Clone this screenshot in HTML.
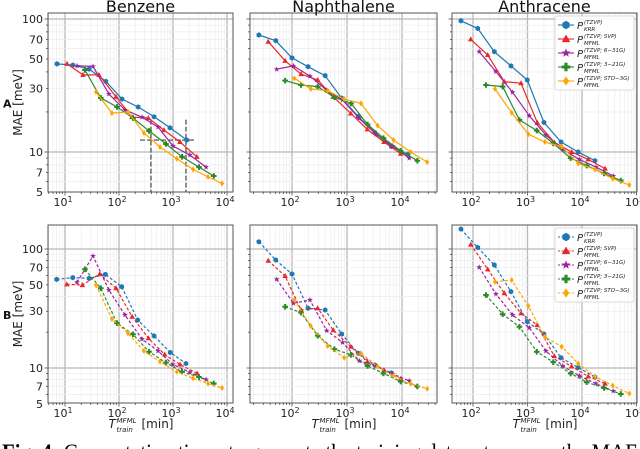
<!DOCTYPE html>
<html><head><meta charset="utf-8">
<style>
html,body{margin:0;padding:0;background:#fff;overflow:hidden}
svg{display:block;font-family:"DejaVu Sans","Liberation Sans",sans-serif}
</style></head>
<body>
<svg id="fig" width="640" height="449" viewBox="0 0 640 449" xmlns="http://www.w3.org/2000/svg">
<text x="2" y="460" font-family="Liberation Serif, serif" font-size="23" textLength="636" lengthAdjust="spacingAndGlyphs"><tspan font-weight="bold">Fig. 4:</tspan> Computation times to generate the training data sets versus the MAE</text>
</svg>
<script>
// ---------- data (x: T_train [min], y: MAE [meV]) ----------
// Panel A1 Benzene
const bzA_krr_T=[7.1,14,28,57,114,226,446,880,1800];
const bzA_krr_MAE=[46,45,42,34,25,21.8,18.4,15.2,12.3];
const bzA_svp_T=[10.9,21.5,42.5,88,174,350,680,1350,2770];
const bzA_svp_MAE=[46,38,38,26,18.3,18,14.6,11.9,9.2];
const bzA_631_T=[16.7,33,65,129,267,530,1000,2050,4100];
const bzA_631_MAE=[44.4,44,27.3,20.7,18.3,15.4,11.1,9.5,7.7];
const bzA_321_T=[23.4,46,92,182,360,740,1470,3030,5700];
const bzA_321_MAE=[41.4,25.5,21.8,18,14.4,11.5,9.2,7.7,6.6];
const bzA_sto_T=[37.5,74,147,290,575,1180,2350,4460,8100];
const bzA_sto_MAE=[28.3,19.6,20,13.9,10.9,8.9,7.4,6.5,5.8];
// Panel A2 Naphthalene
const npA_krr_T=[25,50.6,100,196,400,800,1600,3200,6400,12800];
const npA_krr_MAE=[75.8,68.7,51,43.8,37.5,25.4,18.5,14,11,9.6];
const npA_svp_T=[37,75,146,293,563,1170,2340,4700,9460];
const npA_svp_MAE=[67.5,48.5,38.5,34.8,26,19.5,14.8,11.9,9.7];
const npA_631_T=[52.7,106,212,427,830,1675,3370,6760,13500];
const npA_631_MAE=[41.9,44.4,37.2,29.2,24.6,17.9,13.6,11.1,9.0];
const npA_321_T=[75,146,293,590,1185,2370,4600,9460,19000];
const npA_321_MAE=[34.4,31.9,31,25.8,23.2,16.1,12.7,10.2,8.6];
const npA_sto_T=[110,220,445,890,1800,3600,7000,14400,28700];
const npA_sto_MAE=[35.8,29.8,28.9,25,23.2,15.8,12.3,10,8.4];
// Panel A3 Anthracene
const anA_krr_T=[60,122,246,497,990,2000,4120,8500,17300];
const anA_krr_MAE=[97,85,56.8,44.4,34.8,16.7,11.9,10,8.6];
const anA_svp_T=[91,186,375,760,1510,3100,6450,13000,26500];
const anA_svp_MAE=[70.3,53.6,33.8,32.9,16.6,11.8,10,8.8,7.5];
const anA_631_T=[130,263,533,1080,2180,4430,8900,18000,37500];
const anA_631_MAE=[56.8,40.2,28.1,18.7,13.4,10.5,8.8,7.7,6.6];
const anA_321_T=[173,350,710,1480,2970,6200,12200,25400,51500];
const anA_321_MAE=[31.9,31,17.4,14.5,11.6,9.0,7.9,6.9,6.1];
const anA_sto_T=[253,513,1035,2090,4240,8500,17300,36600,73800];
const anA_sto_MAE=[29.8,19.7,13.6,11.9,11,8.2,7.4,6.3,5.65];
// Panel B1 Benzene
const bzB_krr_T=[7,13.9,28,56,112,222,445,890,1740];
const bzB_krr_MAE=[55.6,57.4,56.7,61.2,48.2,25.3,18.6,13.5,10.9];
const bzB_svp_T=[10.8,21,44,88,175,350,700,1350,2800];
const bzB_svp_MAE=[50.5,49.8,61.6,46.8,27,17.8,13,10.7,9.0];
const bzB_631_T=[16.7,33,65,129,267,530,1000,2050,4100];
const bzB_631_MAE=[52.5,87.3,45.2,27.9,17.5,13.9,10.7,9.2,8.0];
const bzB_321_T=[23.4,46,92,182,360,740,1470,3030,5700];
const bzB_321_MAE=[67.5,46.8,23.8,19.2,13.7,11.1,9.3,8.4,7.4];
const bzB_sto_T=[37.5,74,147,290,575,1180,2350,4460,8100];
const bzB_sto_MAE=[49.8,25.8,19.6,13.9,11.3,9.3,8.2,7.4,6.8];
// Panel B2 Naphthalene
const npB_krr_T=[25,50.6,100,196,400,800,1600,3200,6400];
const npB_krr_MAE=[115,80.9,61.7,31.8,30.7,19.3,13.3,10.6,9.1];
const npB_svp_T=[37,75,146,293,563,1170,2340,4700,9460];
const npB_svp_MAE=[79.8,59.3,30.7,31.8,20.8,15.1,11.3,9.6,8.1];
const npB_631_T=[52.7,106,212,427,830,1675,3370,6760,13500];
const npB_631_MAE=[55.6,35,37.3,20.6,16.4,11.5,10.4,8.9,7.8];
const npB_321_T=[75,146,293,590,1185,2370,4600,9460,19000];
const npB_321_MAE=[32.7,29.2,18.7,14.4,12.9,10.4,9.0,7.7,7.0];
const npB_sto_T=[110,220,445,890,1800,3600,7000,14400,28700];
const npB_sto_MAE=[37.3,22.5,15.3,12.2,13.3,10.3,8.6,7.4,6.7];
// Panel B3 Anthracene
const anB_krr_T=[60,122,246,497,990,2000,4120,8500,17300];
const anB_krr_MAE=[147,103,73.4,43.8,24.5,19.3,12.2,10.1,8.4];
const anB_svp_T=[91,186,375,760,1510,3100,6450,13000,26500];
const anB_svp_MAE=[109,67.5,42.5,28.8,23,12.6,10.3,8.5,7.4];
const anB_631_T=[130,263,533,1080,2180,4430,8900,18000,37500];
const anB_631_MAE=[70.2,41.9,27.9,21.8,13.9,10.4,8.6,7.4,6.4];
const anB_321_T=[173,350,710,1480,2970,6200,12200,25400,51500];
const anB_321_MAE=[41,28.3,22.2,13.7,11.2,9.0,7.6,6.8,6.05];
const anB_sto_T=[253,513,1035,2090,4240,8500,17300,36600,73800];
const anB_sto_MAE=[53.1,54.8,33.2,18.3,15.1,10.9,8.5,7.1,6.1];
// crosshair in benzene A (T and MAE)
const crossT=[390,1740];
const crossMAE=[12.3];
const crossRangeT=[245,2570];
const yTickValues=[5,7,10,30,50,70,100];
const yTickLabels=["5","7","10","30","50","70","100"];
const panelTitles=["Benzene","Naphthalene","Anthracene"];
const legendSup=["(TZVP)","(TZVP; SVP)","(TZVP; 6\u221231G)","(TZVP; 3\u221221G)","(TZVP; STO\u22123G)"];
const legendSub=["KRR","MFML","MFML","MFML","MFML"];

// ---------- layout ----------
const NS="http://www.w3.org/2000/svg";
const svg=document.getElementById('fig');
const COLORS=["#1f77b4","#e8292b","#9b239e","#2a8a2a","#ffa500"];
const MARKS=["hex","tri","star","plus","dia"];
const cols=[{l:48,r:233,ref:65,rl:1,d:54},{l:250,r:437,ref:292,rl:2,d:55},{l:452,r:637,ref:473,rl:2,d:54.5}];
const rows=[{t:13,b:192,ref:19,d:133,dash:null},{t:225,b:403,ref:249,d:119,dash:"3,2"}];
function mk(tag,attrs,parent){const e=document.createElementNS(NS,tag);for(const k in attrs)e.setAttribute(k,attrs[k]);(parent||svg).appendChild(e);return e;}
function xS(c,v){return c.ref+(Math.log10(v)-c.rl)*c.d;}
function yS(r,v){return r.ref-(Math.log10(v)-2)*r.d;}
function xV(c,px){return Math.pow(10,c.rl+(px-c.ref)/c.d);}

function marker(g,kind,x,y,col,s){
  s=s||1;let e;
  if(kind==="hex"){let p=[];for(let i=0;i<6;i++){const a=Math.PI/3*i+Math.PI/6;p.push((x+3.2*s*Math.cos(a)).toFixed(1)+","+(y+3.2*s*Math.sin(a)).toFixed(1));}e=mk('polygon',{points:p.join(' '),fill:col},g);}
  else if(kind==="tri"){e=mk('polygon',{points:`${x},${y-3.5*s} ${x+3.3*s},${y+2.4*s} ${x-3.3*s},${y+2.4*s}`,fill:col},g);}
  else if(kind==="star"){let p=[];for(let i=0;i<10;i++){const a=-Math.PI/2+Math.PI/5*i;const rr=(i%2?1.5:3.6)*s;p.push((x+rr*Math.cos(a)).toFixed(1)+","+(y+rr*Math.sin(a)).toFixed(1));}e=mk('polygon',{points:p.join(' '),fill:col},g);}
  else if(kind==="plus"){const a=1.2*s,b=3.3*s;e=mk('polygon',{points:`${x-a},${y-b} ${x+a},${y-b} ${x+a},${y-a} ${x+b},${y-a} ${x+b},${y+a} ${x+a},${y+a} ${x+a},${y+b} ${x-a},${y+b} ${x-a},${y+a} ${x-b},${y+a} ${x-b},${y-a} ${x-a},${y-a}`,fill:col},g);}
  else {e=mk('polygon',{points:`${x},${y-3.6*s} ${x+2.4*s},${y} ${x},${y+3.6*s} ${x-2.4*s},${y}`,fill:col},g);}
  return e;
}

const PANEL_DATA=[
 [[bzA_krr_T,bzA_krr_MAE],[bzA_svp_T,bzA_svp_MAE],[bzA_631_T,bzA_631_MAE],[bzA_321_T,bzA_321_MAE],[bzA_sto_T,bzA_sto_MAE]],
 [[npA_krr_T,npA_krr_MAE],[npA_svp_T,npA_svp_MAE],[npA_631_T,npA_631_MAE],[npA_321_T,npA_321_MAE],[npA_sto_T,npA_sto_MAE]],
 [[anA_krr_T,anA_krr_MAE],[anA_svp_T,anA_svp_MAE],[anA_631_T,anA_631_MAE],[anA_321_T,anA_321_MAE],[anA_sto_T,anA_sto_MAE]],
 [[bzB_krr_T,bzB_krr_MAE],[bzB_svp_T,bzB_svp_MAE],[bzB_631_T,bzB_631_MAE],[bzB_321_T,bzB_321_MAE],[bzB_sto_T,bzB_sto_MAE]],
 [[npB_krr_T,npB_krr_MAE],[npB_svp_T,npB_svp_MAE],[npB_631_T,npB_631_MAE],[npB_321_T,npB_321_MAE],[npB_sto_T,npB_sto_MAE]],
 [[anB_krr_T,anB_krr_MAE],[anB_svp_T,anB_svp_MAE],[anB_631_T,anB_631_MAE],[anB_321_T,anB_321_MAE],[anB_sto_T,anB_sto_MAE]]
];
const SERIES_NAMES=["krr","mfml-svp","mfml-631g","mfml-321g","mfml-sto3g"];
const defs=mk('defs',{});

rows.forEach((r,ri)=>{
 cols.forEach((c,ci)=>{
  const pid='p'+ri+ci;
  const g=mk('g',{});
  
  
  const cp=mk('clipPath',{id:'clip'+pid},defs);mk('rect',{x:c.l,y:r.t,width:c.r-c.l,height:r.b-r.t},cp);
  const grid=mk('g',{'clip-path':`url(#clip${pid})`},g);
  
  
  const xmin=xV(c,c.l),xmax=xV(c,c.r);
  for(let e=0;e<6;e++){for(let m=1;m<10;m++){const v=m*Math.pow(10,e);if(v<xmin||v>xmax)continue;const X=xS(c,v);
    mk('line',{x1:X,x2:X,y1:r.t,y2:r.b,stroke:m===1?'#b8b8b8':'#ececec','stroke-width':m===1?1.3:0.7},grid);
    mk('line',{x1:X,x2:X,y1:r.b,y2:r.b+(m===1?3.5:2),stroke:'#333','stroke-width':0.7},g);}}
  for(let e=0;e<3;e++){for(let m=1;m<10;m++){const v=m*Math.pow(10,e);const Y=yS(r,v);if(Y<r.t||Y>r.b)continue;
    mk('line',{x1:c.l,x2:c.r,y1:Y,y2:Y,stroke:m===1?'#b8b8b8':'#ececec','stroke-width':m===1?1.3:0.7},grid);
    mk('line',{x1:c.l-(m===1?3.5:2),x2:c.l,y1:Y,y2:Y,stroke:'#333','stroke-width':0.7},g);}}
  for(let e=0;e<6;e++){const v=Math.pow(10,e);const X=xS(c,v);if(X<c.l-2||X>c.r+8)continue;
    const t=mk('text',{x:X-2,y:r.b+14,'font-size':11,'text-anchor':'middle',fill:'#222'},g);
    
    
    t.textContent='10';const s=mk('tspan',{dy:-4,'font-size':8},t);s.textContent=String(e);}
  if(ci===0){yTickValues.forEach((v,i)=>{const t=mk('text',{x:c.l-5,y:yS(r,v)+4,'font-size':11,'text-anchor':'end',fill:'#222'},g);
    
    
    t.textContent=yTickLabels[i];});}
  if(ri===0&&ci===0){
    const ch=mk('g',{stroke:'#444','stroke-width':1.2,'stroke-dasharray':'5,2'},g);
    
    
    crossT.forEach(v=>{mk('line',{x1:xS(c,v),x2:xS(c,v),y1:yS(r,17.5),y2:r.b},ch);});
    mk('line',{x1:xS(c,crossRangeT[0]),x2:xS(c,crossRangeT[1]),y1:yS(r,crossMAE[0]),y2:yS(r,crossMAE[0])},ch);
  }
  const sg=mk('g',{'clip-path':`url(#clip${pid})`},g);
  PANEL_DATA[ri*3+ci].forEach((s,si)=>{
    const T=s[0],M=s[1];const col=COLORS[si];
    const pts=T.map((v,i)=>xS(c,v).toFixed(1)+','+yS(r,M[i]).toFixed(1)).join(' ');
    const pl=mk('polyline',{points:pts,fill:'none',stroke:col,'stroke-width':1.2},sg);
    if(r.dash)pl.setAttribute('stroke-dasharray',r.dash);
    
    
    T.forEach((v,i)=>{const m=marker(sg,MARKS[si],xS(c,v),yS(r,M[i]),col,0.85);
      
      });
  });
  const fr=mk('rect',{x:c.l,y:r.t,width:c.r-c.l,height:r.b-r.t,fill:'none',stroke:'#555','stroke-width':1},g);
  
  
  const cx=(c.l+c.r)/2;
  if(ri===1){
    const xl=mk('g',{},g);
    
    
    const bx=cx-32,by=r.b+25;
    const t1=mk('text',{x:bx,y:by,'font-size':12,'font-style':'italic',fill:'#222'},xl);t1.textContent='T';
    const t2=mk('text',{x:bx+8,y:by-5,'font-size':7,'font-style':'italic',fill:'#222'},xl);t2.textContent='MFML';
    const t3=mk('text',{x:bx+8,y:by+4,'font-size':7,'font-style':'italic',fill:'#222'},xl);t3.textContent='train';
    const t4=mk('text',{x:bx+33,y:by,'font-size':12,fill:'#222'},xl);t4.textContent='[min]';
  }
  if(ri===0){const tt=mk('text',{x:cx,y:12,'font-size':16,'text-anchor':'middle',fill:'#111'},g);
    
    
    tt.textContent=panelTitles[ci];}
 });
 const mid=(r.t+r.b)/2;
 const yl=mk('text',{x:0,y:0,'font-size':12,'text-anchor':'middle',fill:'#222',transform:`translate(22,${mid}) rotate(-90)`});
 
 
 yl.textContent='MAE [meV]';
 const rl=mk('text',{x:3,y:mid+5,'font-size':11,'font-weight':'bold',fill:'#111'});
 
 
 rl.textContent=ri?'B':'A';
 const lx=555,ly=r.t+3,lg=mk('g',{});
 
 
 mk('rect',{x:lx,y:ly,width:79,height:74,rx:2,fill:'#fff','fill-opacity':0.85,stroke:'#d0d0d0','stroke-width':0.8},lg);
 legendSup.forEach((s,i)=>{
   const ey=ly+9+i*14;
   const en=mk('g',{},lg);
   
   
   const ln=mk('line',{x1:lx+3,x2:lx+19,y1:ey,y2:ey,stroke:COLORS[i],'stroke-width':1.1},en);
   if(r.dash)ln.setAttribute('stroke-dasharray','2,1.5');
   marker(en,MARKS[i],lx+11,ey,COLORS[i],1.3);
   const t=mk('text',{x:lx+22,y:ey+4,'font-size':10,'font-style':'italic',fill:'#222'},en);
   t.textContent='P';
   const a=mk('text',{x:lx+29,y:ey-1,'font-size':5.5,'font-style':'italic',fill:'#222'},en);a.textContent=s;
   const b=mk('text',{x:lx+29,y:ey+6,'font-size':5.5,'font-style':'italic',fill:'#222'},en);b.textContent=legendSub[i];
 });
});
</script>
</body></html>
